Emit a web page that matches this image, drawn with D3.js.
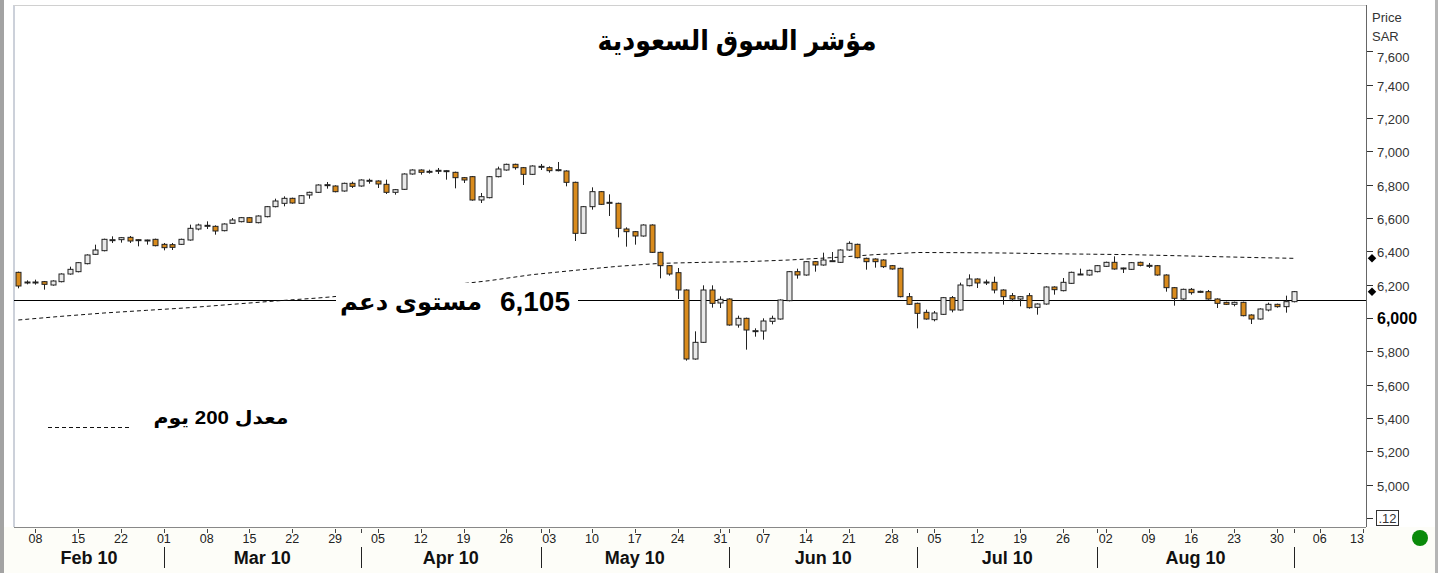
<!DOCTYPE html>
<html>
<head>
<meta charset="utf-8">
<title>مؤشر السوق السعودية</title>
<style>
  body { margin: 0; background: #fff; }
  svg { display: block; }
  text { font-family: "Liberation Sans", "DejaVu Sans", sans-serif; }
</style>
</head>
<body>
<svg></svg>
<script src="https://d3js.org/d3.v7.min.js"></script>
<script>
// ---- data ----
const firstDay = new Date(2010, 1, 4);   // first candle, Thu 4 Feb 2010
const axisEnd = new Date(2010, 8, 15);   // axis runs a little past the last candle

const opens = [6274,6216,6214,6218,6198,6218,6264,6278,6326,6382,6404,6466,6470,6484,6470,6468,6472,6442,6440,6442,
  6468,6534,6552,6550,6524,6568,6578,6602,6572,6608,6668,6688,6718,6688,6738,6754,6796,6792,6762,6808,
  6792,6822,6822,6802,6754,6772,6864,6888,6876,6882,6882,6874,6842,6848,6708,6722,6848,6888,6922,6902,
  6862,6906,6902,6886,6882,6814,6508,6668,6758,6690,6688,6534,6518,6492,6558,6394,6314,6272,6168,5754,
  5854,6168,6090,6114,5958,5998,5920,5922,5980,5994,6104,6278,6258,6338,6318,6340,6334,6408,6442,6358,
  6354,6348,6314,6298,6128,6088,6034,5990,6022,6122,6048,6194,6234,6212,6214,6168,6134,6114,6134,6064,
  6084,6186,6164,6208,6262,6258,6278,6310,6334,6300,6292,6334,6312,6314,6258,6182,6114,6172,6160,6158,
  6114,6094,6082,6094,6018,5994,6048,6082,6068,6098];
const highs = [6278,6226,6230,6222,6226,6268,6308,6336,6382,6440,6476,6490,6486,6492,6472,6470,6476,6450,6450,6476,
  6560,6566,6580,6556,6568,6600,6606,6606,6616,6672,6716,6730,6722,6738,6758,6802,6816,6796,6812,6818,
  6832,6836,6826,6830,6774,6868,6892,6892,6890,6900,6888,6878,6846,6852,6750,6852,6908,6926,6926,6906,
  6916,6924,6910,6936,6886,6818,6672,6784,6762,6742,6692,6544,6522,6562,6562,6398,6318,6300,6172,5920,
  6196,6196,6130,6118,6014,6002,5938,5998,6014,6112,6282,6296,6342,6342,6392,6396,6412,6460,6446,6362,
  6358,6352,6318,6302,6150,6092,6050,6042,6126,6132,6212,6262,6238,6230,6248,6172,6150,6132,6150,6088,
  6190,6190,6240,6278,6296,6290,6318,6338,6370,6302,6336,6338,6330,6318,6262,6186,6176,6180,6164,6168,
  6118,6098,6098,6098,6022,6058,6092,6086,6134,6162];
const lows = [6178,6202,6200,6170,6194,6214,6260,6274,6322,6378,6400,6450,6452,6450,6430,6440,6430,6406,6408,6438,
  6464,6526,6534,6500,6520,6564,6574,6570,6568,6604,6664,6670,6686,6684,6716,6750,6776,6754,6758,6780,
  6788,6806,6780,6744,6740,6768,6860,6860,6866,6864,6830,6778,6810,6704,6690,6718,6844,6884,6890,6798,
  6858,6888,6872,6880,6790,6462,6504,6650,6678,6612,6484,6428,6440,6488,6390,6238,6254,6114,5744,5750,
  5850,6062,6060,5954,5942,5810,5888,5870,5962,5990,6100,6236,6254,6278,6314,6336,6330,6404,6358,6290,
  6302,6300,6290,6124,6078,5938,5990,5980,6018,6034,6044,6190,6180,6198,6148,6080,6100,6070,6056,6020,
  6080,6140,6160,6204,6258,6254,6274,6306,6290,6270,6288,6310,6300,6254,6158,6074,6110,6140,6150,6110,
  6060,6078,6070,6010,5964,5990,6040,6062,6032,6094];
const closes = [6192,6212,6216,6202,6222,6264,6292,6332,6378,6408,6472,6470,6482,6462,6466,6464,6434,6422,6424,6472,
  6538,6558,6556,6522,6564,6588,6602,6574,6612,6668,6702,6718,6690,6734,6754,6798,6800,6758,6808,6790,
  6828,6826,6804,6754,6770,6864,6888,6874,6880,6886,6884,6842,6828,6708,6728,6848,6894,6922,6902,6862,
  6912,6910,6884,6890,6814,6508,6668,6758,6682,6694,6538,6518,6492,6558,6394,6314,6264,6168,5754,5854,
  6168,6088,6112,5958,5998,5928,5924,5982,5998,6108,6278,6258,6338,6318,6348,6344,6408,6448,6362,6338,
  6338,6308,6294,6128,6082,6028,5994,6030,6122,6048,6198,6234,6210,6216,6168,6128,6114,6128,6062,6084,
  6186,6170,6214,6274,6264,6286,6314,6334,6294,6298,6332,6316,6316,6258,6182,6118,6172,6152,6156,6114,
  6088,6082,6094,6014,5994,6054,6082,6068,6098,6158];

// 200 day average, read once a week (candle number -> value)
const maIndex = [0,5,10,15,20,25,30,35,40,45,50,55,60,65,70,75,80,85,90,95,100,105,110,115,120,125,130,135,140,145,149];
const maValues = [5988,6010,6030,6046,6062,6082,6102,6120,6142,6168,6195,6224,6260,6286,6310,6328,6334,6338,6348,6362,
  6380,6393,6392,6390,6386,6383,6380,6374,6368,6362,6358];

const priceTicks = [5000,5200,5400,5600,5800,6000,6200,6400,6600,6800,7000,7200,7400,7600];
const supportLevel = 6105;

// ---- layout ----
const width = 1447, height = 573;
const plot = { left: 14, right: 1366, top: 5, bottom: 527 };
const orange = "#d98b1d", hollow = "#e9e9e9", ink = "#222";

const svg = d3.select("svg").attr("width", width).attr("height", height);

const axisDays = d3.timeDays(firstDay, axisEnd).filter(d => d.getDay() !== 0 && d.getDay() !== 6);
const candles = opens.map((o, i) => ({ i, o, h: highs[i], l: lows[i], c: closes[i] }));

const x = d3.scaleLinear().domain([-0.5, 157.4]).range([plot.left, plot.right]);
const y = d3.scaleLinear().domain([6000, 7600]).range([318, 51.33]);

// outer frame
svg.append("rect").attr("x", 0).attr("y", 0).attr("width", 4).attr("height", height).attr("fill", "#a3a3a3");
svg.append("rect").attr("x", 1435).attr("y", 0).attr("width", 3).attr("height", height).attr("fill", "#b5b5b5");
svg.append("rect").attr("x", 4).attr("y", plot.bottom).attr("width", 1431).attr("height", height - plot.bottom).attr("fill", "#fdfdf8");

// plot frame
svg.append("line").attr("x1", plot.left).attr("x2", plot.left).attr("y1", plot.top).attr("y2", plot.bottom).attr("stroke", "#9aa3b5");
svg.append("line").attr("x1", plot.left).attr("x2", plot.right).attr("y1", plot.top + 0.5).attr("y2", plot.top + 0.5).attr("stroke", "#d0d0d0");
svg.append("line").attr("x1", plot.right + 0.5).attr("x2", plot.right + 0.5).attr("y1", plot.top).attr("y2", plot.bottom).attr("stroke", "#666");
svg.append("line").attr("x1", plot.left).attr("x2", plot.right).attr("y1", plot.bottom + 0.5).attr("y2", plot.bottom + 0.5).attr("stroke", "#888");

// support line
svg.append("line")
  .attr("x1", plot.left).attr("x2", plot.right)
  .attr("y1", Math.round(y(supportLevel)) + 0.5).attr("y2", Math.round(y(supportLevel)) + 0.5)
  .attr("stroke", "#000").attr("stroke-width", 1.2);

// moving average
const maLine = d3.line().x((d, k) => x(maIndex[k])).y(d => y(d));
svg.append("path").datum(maValues)
  .attr("d", maLine)
  .attr("fill", "none").attr("stroke", "#111").attr("stroke-width", 1)
  .attr("stroke-dasharray", "4,3");

// label box over the lines
svg.append("rect").attr("x", 336).attr("y", 283).attr("width", 242).attr("height", 34).attr("fill", "#fff");
svg.append("text").attr("x", 570).attr("y", 311)
  .attr("text-anchor", "end").attr("font-size", 28).attr("font-weight", "bold").attr("fill", "#000")
  .text(d3.format(",")(supportLevel));
svg.append("text").attr("x", 411).attr("y", 310)
  .attr("text-anchor", "middle").attr("direction", "rtl")
  .attr("font-size", 24).attr("font-weight", "bold").attr("fill", "#000")
  .attr("textLength", 142).attr("lengthAdjust", "spacingAndGlyphs")
  .text("مستوى دعم");

// candles
const g = svg.append("g");
g.selectAll("line.wick").data(candles).join("line")
  .attr("class", "wick")
  .attr("x1", d => Math.round(x(d.i)) + 0.5).attr("x2", d => Math.round(x(d.i)) + 0.5)
  .attr("y1", d => y(d.h)).attr("y2", d => y(d.l))
  .attr("stroke", ink).attr("stroke-width", 1);
g.selectAll("rect.body").data(candles).join("rect")
  .attr("class", "body")
  .attr("x", d => Math.round(x(d.i)) - 2)
  .attr("width", 5)
  .attr("y", d => y(Math.max(d.o, d.c)))
  .attr("height", d => Math.max(1, Math.abs(y(d.o) - y(d.c))))
  .attr("fill", d => d.c < d.o ? orange : hollow)
  .attr("stroke", ink).attr("stroke-width", 1);

// title
svg.append("text").attr("x", 737).attr("y", 50)
  .attr("text-anchor", "middle").attr("direction", "rtl")
  .attr("font-size", 28).attr("font-weight", "bold").attr("fill", "#000")
  .attr("textLength", 279).attr("lengthAdjust", "spacingAndGlyphs")
  .text("مؤشر السوق السعودية");

// legend
svg.append("line").attr("x1", 48).attr("x2", 130).attr("y1", 427.5).attr("y2", 427.5)
  .attr("stroke", "#111").attr("stroke-dasharray", "4,3");
svg.append("text").attr("x", 221).attr("y", 424)
  .attr("text-anchor", "middle").attr("direction", "rtl")
  .attr("font-size", 18).attr("font-weight", "bold").attr("fill", "#000")
  .attr("textLength", 135).attr("lengthAdjust", "spacingAndGlyphs")
  .text("معدل 200 يوم");

// right price axis
const ax = plot.right + 1;
svg.append("text").attr("x", 1372).attr("y", 22).attr("font-size", 13).attr("fill", "#333").text("Price");
svg.append("text").attr("x", 1372).attr("y", 41).attr("font-size", 13).attr("fill", "#333").text("SAR");
const yt = svg.append("g").selectAll("g").data(priceTicks).join("g")
  .attr("transform", d => `translate(0,${Math.round(y(d)) + 0.5})`);
yt.append("line").attr("x1", ax).attr("x2", ax + 6).attr("stroke", "#333");
yt.append("text")
  .attr("x", ax + 10).attr("dy", d => d === 7600 ? 10 : 5)
  .attr("font-size", d => d === 6000 ? 16 : 13)
  .attr("font-weight", d => d === 6000 ? "bold" : "normal")
  .attr("font-family", d => d === 6000 ? "'Liberation Serif', serif" : null)
  .attr("fill", d => d === 6000 ? "#000" : "#333")
  .text(d => d3.format(",")(d));
// small box at the foot of the axis
svg.append("line").attr("x1", ax).attr("x2", ax + 6).attr("y1", 518.5).attr("y2", 518.5).attr("stroke", "#333");
svg.append("rect").attr("x", 1376.5).attr("y", 510.5).attr("width", 22).attr("height", 15).attr("fill", "#fff").attr("stroke", "#333");
svg.append("text").attr("x", 1387.5).attr("y", 523).attr("text-anchor", "middle").attr("font-size", 13).attr("fill", "#333").text(".12");

// last-value markers (square diamonds)
const lastMa = maValues[maValues.length - 1], lastClose = closes[closes.length - 1];
svg.selectAll("path.marker").data([lastMa, lastClose]).join("path")
  .attr("class", "marker")
  .attr("d", d3.symbol(d3.symbolSquare, 36))
  .attr("transform", d => `translate(1372,${y(d)}) rotate(45)`)
  .attr("fill", "#000");

// green status dot
svg.append("circle").attr("cx", 1420).attr("cy", 538).attr("r", 8).attr("fill", "#0a8a0a");

// bottom time axis
const fmtDay = d3.timeFormat("%d"), fmtMonth = d3.timeFormat("%b %y");
const dayIndex = date => d3.bisectRight(axisDays, date) - 1;
const mondays = axisDays.map((d, i) => ({ d, i })).filter(o => o.d.getDay() === 1);
const months = d3.timeMonths(new Date(2010, 2, 1), new Date(2010, 8, 2)).map(dayIndex);
const bx = svg.append("g");
bx.selectAll("line.tick").data(mondays.map(o => o.i).concat(months)).join("line")
  .attr("class", "tick")
  .attr("x1", i => Math.round(x(i)) + 0.5).attr("x2", i => Math.round(x(i)) + 0.5)
  .attr("y1", plot.bottom + 2).attr("y2", plot.bottom + 6)
  .attr("stroke", "#444");
bx.selectAll("text.day").data(mondays).join("text")
  .attr("class", "day")
  .attr("x", o => Math.min(x(o.i), 1357)).attr("y", 543)
  .attr("text-anchor", "middle").attr("font-size", 12.5).attr("fill", "#222")
  .text(o => fmtDay(o.d));
bx.selectAll("line.sep").data(months).join("line")
  .attr("class", "sep")
  .attr("x1", i => Math.round(x(i)) + 0.5).attr("x2", i => Math.round(x(i)) + 0.5)
  .attr("y1", 547).attr("y2", 568)
  .attr("stroke", "#222");
const bounds = [-0.5].concat(months);
const monthLabels = d3.timeMonths(new Date(2010, 1, 1), new Date(2010, 7, 2));
bx.selectAll("text.month").data(monthLabels).join("text")
  .attr("class", "month")
  .attr("x", (d, k) => (x(bounds[k]) + x(bounds[k + 1])) / 2).attr("y", 564)
  .attr("text-anchor", "middle").attr("font-size", 18).attr("font-weight", "bold").attr("fill", "#111")
  .text(d => fmtMonth(d));
</script>
</body>
</html>
